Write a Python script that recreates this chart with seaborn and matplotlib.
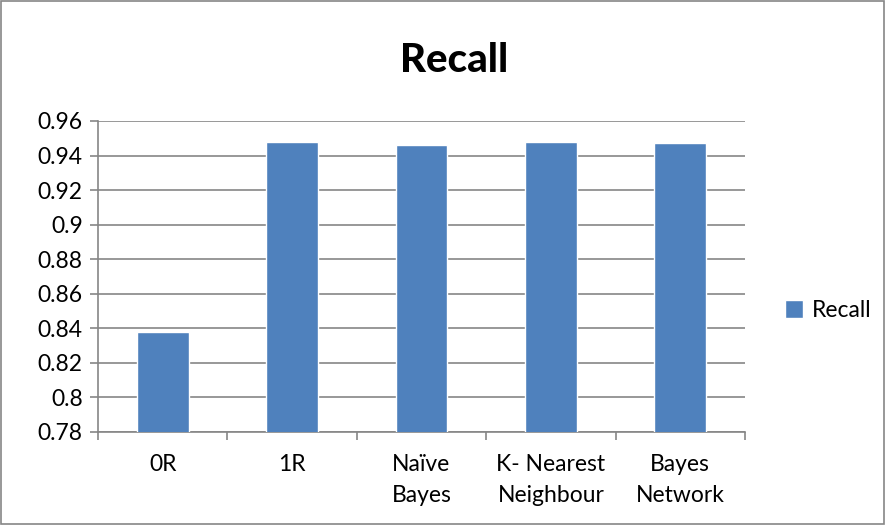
import matplotlib
matplotlib.use("Agg")
import matplotlib.pyplot as plt
import seaborn as sns
import pandas as pd
import numpy as np
from matplotlib.patches import Rectangle

# Data
categories = ["0R", "1R", "Naïve\nBayes", "K- Nearest\nNeighbour", "Bayes\nNetwork"]
recall = [0.838, 0.948, 0.946, 0.948, 0.947]

BAR_COLOR = "#4F81BD"
GRID_COLOR = "#868686"

def main():
    sns.set_theme(style="white")
    plt.rcParams['font.family'] = ['Lato', 'DejaVu Sans']
    plt.rcParams['text.color'] = 'black'

    df = pd.DataFrame({"model": categories, "recall": recall})

    fig = plt.figure(figsize=(8.86, 5.25), dpi=100)
    ax = fig.add_axes([98 / 886, 1 - 432 / 525, (745 - 98) / 886, (432 - 121) / 525])

    sns.barplot(data=df, x="model", y="recall", color=BAR_COLOR, width=0.4,
                saturation=1, ax=ax, label="Recall", zorder=3)

    ax.set_ylim(0.78, 0.96)
    ax.set_yticks(np.arange(0.78, 0.961, 0.02))
    ax.set_yticklabels(["0.78", "0.8", "0.82", "0.84", "0.86", "0.88", "0.9",
                        "0.92", "0.94", "0.96"])
    ax.set_xlim(-0.5, len(categories) - 0.5)
    ax.set_xticks(np.arange(-0.5, len(categories), 1.0), minor=True)

    ax.grid(axis="y", color=GRID_COLOR, linewidth=1.2, zorder=0)
    ax.set_axisbelow(True)
    for side in ["top", "right"]:
        ax.spines[side].set_visible(False)
    for side in ["left", "bottom"]:
        ax.spines[side].set_color(GRID_COLOR)
        ax.spines[side].set_linewidth(1.2)

    ax.tick_params(axis="y", which="major", left=True, length=6, color=GRID_COLOR,
                   width=1.2, labelsize=16.5, pad=5, labelcolor="black")
    ax.tick_params(axis="x", which="major", length=0, labelsize=16.5, pad=16,
                   labelcolor="black")
    ax.tick_params(axis="x", which="minor", bottom=True, length=6, color=GRID_COLOR,
                   width=1.2)
    for lbl in ax.get_xticklabels():
        lbl.set_linespacing(1.6)

    ax.set_xlabel("")
    ax.set_ylabel("")

    fig.text(454 / 886, 1 - 60 / 525, "Recall", ha="center", va="center",
             fontsize=29, fontweight="black", color="black")

    ax.legend(loc="center left", bbox_to_anchor=(1.03, 0.39), frameon=False,
              fontsize=16.5, handlelength=0.8, handleheight=0.8, handletextpad=0.35,
              labelcolor="black")

    # chart border
    fig.patches.append(Rectangle((0.001, 0.001), 0.997, 0.997, transform=fig.transFigure,
                                 fill=False, edgecolor=GRID_COLOR, linewidth=1.2))

    fig.savefig("out.png", dpi=100)
    plt.close(fig)

if __name__ == "__main__":
    main()
